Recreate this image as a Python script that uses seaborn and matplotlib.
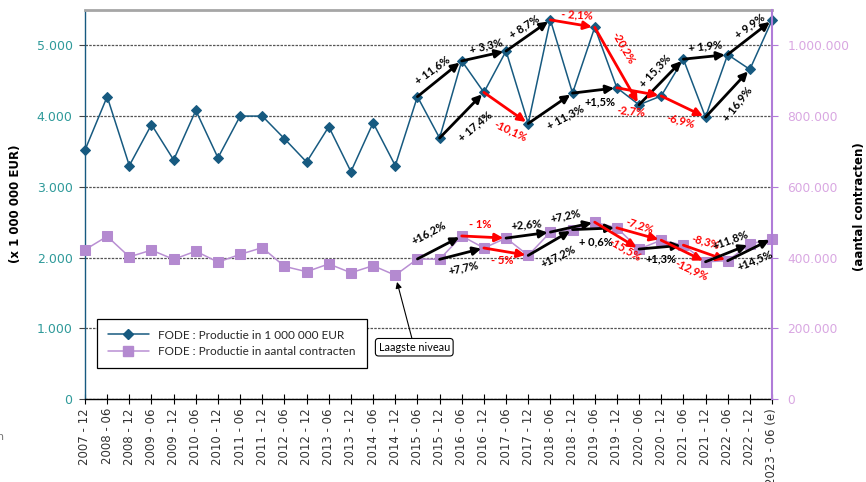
import numpy as np
import pandas as pd
import matplotlib
matplotlib.use("Agg")
import matplotlib.pyplot as plt
from matplotlib.lines import Line2D
import seaborn as sns

# Half-year periods
periods = [
    "2007 - 12", "2008 - 06", "2008 - 12", "2009 - 06", "2009 - 12", "2010 - 06",
    "2010 - 12", "2011 - 06", "2011 - 12", "2012 - 06", "2012 - 12", "2013 - 06",
    "2013 - 12", "2014 - 06", "2014 - 12", "2015 - 06", "2015 - 12", "2016 - 06",
    "2016 - 12", "2017 - 06", "2017 - 12", "2018 - 06", "2018 - 12", "2019 - 06",
    "2019 - 12", "2020 - 06", "2020 - 12", "2021 - 06", "2021 - 12", "2022 - 06",
    "2022 - 12", "2023 - 06 (e)",
]

# Production in 1 000 000 EUR (left axis)
productie_eur = [
    3520, 4275, 3300, 3880, 3380, 4080, 3410, 4000, 4000, 3680, 3350, 3850,
    3215, 3905, 3300, 4275, 3690, 4780, 4335, 4920, 3895, 5360, 4325, 5255,
    4400, 4160, 4285, 4805, 3985, 4870, 4660, 5355,
]

# Production in number of contracts (right axis)
aantal_contracten = [
    422000, 460000, 402000, 421000, 395000, 418000, 387000, 409000, 428000,
    375000, 360000, 382000, 357000, 377000, 350000, 396000, 395000, 461000,
    427000, 455000, 406000, 472000, 479000, 500000, 484000, 424000, 449000,
    435000, 388000, 391000, 438000, 453000,
]

eur_ticks = [0, 1000, 2000, 3000, 4000, 5000]
contract_ticks = [0, 200000, 400000, 600000, 800000, 1000000]

# Year-on-year changes: (from index, to index, label, label dx px, label dy px, rotation)
eur_changes = [
    (15, 17, "+ 11,6%", -7, 9, 36),
    (17, 19, "+ 3,3%", 2, 10, 14),
    (19, 21, "+ 8,7%", -4, 9, 33),
    (21, 23, "- 2,1%", 4, 9, -3),
    (23, 25, "-20,2%", 7, 18, -60),
    (25, 27, "+ 15,3%", -6, 11, 47),
    (27, 29, "+ 1,9%", 0, 11, 6),
    (29, 31, "+ 9,9%", 0, 12, 36),
    (16, 18, "+ 17,4%", 13, -11, 40),
    (18, 20, "-10,1%", 4, -23, -25),
    (20, 22, "+ 11,3%", 15, -9, 28),
    (22, 24, "+1,5%", 5, -11, 0),
    (24, 26, "-2,7%", -8, -19, -5),
    (26, 28, "-6,9%", -3, -14, -15),
    (28, 30, "+ 16,9%", 10, -11, 52),
]

contract_changes = [
    (15, 17, "+16,2%", -11, 15, 28),
    (16, 18, "+7,7%", 2, -14, 12),
    (17, 19, "- 1%", -4, 13, 0),
    (18, 20, "- 5%", -4, -9, 0),
    (19, 21, "+2,6%", -2, 11, 5),
    (20, 22, "+17,2%", 8, -14, 26),
    (21, 23, "+7,2%", -7, 11, 12),
    (22, 24, "+ 0,6%", 1, -13, 0),
    (23, 25, "-15,5%", 8, -14, -30),
    (24, 26, "-7,2%", 1, 9, -18),
    (25, 27, "+1,3%", 0, -12, 0),
    (26, 28, "-12,9%", 8, -19, -25),
    (27, 29, "-8,3%", 0, 11, -15),
    (28, 30, "+11,8%", 3, 13, 20),
    (29, 31, "+14,5%", 5, -10, 22),
]

BLUE = "#175a80"
PURPLE = "#b48ad0"
PURPLE_LINE = "#b98fd3"
RED = "#ff0000"
TEAL = "#2f9a9a"
PINK = "#d9a7e2"

sns.set_theme(style="white")
plt.rcParams["font.family"] = ["DejaVu Sans"]

fig = plt.figure(figsize=(8.66, 4.82), dpi=100)
ax = fig.add_axes([85 / 866, 1 - 399 / 482, (772 - 85) / 866, (399 - 10) / 482])
ax2 = ax.twinx()

x = np.arange(len(periods))
df = pd.DataFrame({"periode": x, "eur": productie_eur, "contracten": aantal_contracten})

sns.lineplot(data=df, x="periode", y="eur", ax=ax, color=BLUE, lw=1.1,
             marker="D", markersize=5, markerfacecolor=BLUE,
             markeredgecolor=BLUE, legend=False)
sns.lineplot(data=df, x="periode", y="contracten", ax=ax2, color=PURPLE_LINE,
             lw=1.1, marker="s", markersize=6.5, markerfacecolor=PURPLE,
             markeredgecolor=PURPLE, legend=False)
for ln in ax.lines + ax2.lines:
    ln.set_clip_on(False)

ax.set_xlim(0, len(periods) - 1)
ax.set_ylim(0, 5500)
ax2.set_ylim(0, 1100000)

ax.set_xticks(x)
ax.set_xticklabels(periods, rotation=90, fontsize=8.5, color="#333333")
ax.set_yticks(eur_ticks)
ax.set_yticklabels([f"{v:,}".replace(",", ".") for v in eur_ticks],
                   fontsize=9, color=TEAL)
ax2.set_yticks(contract_ticks)
ax2.set_yticklabels([f"{v:,}".replace(",", ".") for v in contract_ticks],
                    fontsize=8.8, color=PINK)
ax.set_xlabel("")
ax.set_ylabel("")
ax2.set_ylabel("")

ax.yaxis.grid(True, color="#555555", linestyle=(0, (2, 1)), lw=0.9)
ax.xaxis.grid(False)
ax.set_axisbelow(True)

ax.tick_params(axis="x", direction="inout", length=7, width=0.8, color="black",
               pad=3, bottom=True)
ax.tick_params(axis="y", direction="out", length=4, width=0.8, color="#444444",
               pad=5, left=True)
ax2.tick_params(axis="y", direction="out", length=4, width=0.8, color="#b07cd8",
                pad=7, right=True)

ax.spines["top"].set_color("#a6a6a6")
ax.spines["top"].set_linewidth(2)
ax.spines["left"].set_color(BLUE)
ax.spines["left"].set_linewidth(1)
ax.spines["bottom"].set_color("black")
ax.spines["bottom"].set_linewidth(1)
ax.spines["right"].set_visible(False)
for s in ("top", "left", "bottom"):
    ax2.spines[s].set_visible(False)
ax2.spines["right"].set_color("#b07cd8")
ax2.spines["right"].set_linewidth(1.5)


def draw_changes(axis, values, changes):
    for i, j, text, dx, dy, rot in changes:
        c = RED if text.startswith("-") else "black"
        axis.annotate("", xy=(j, values[j]), xytext=(i, values[i]),
                      arrowprops=dict(arrowstyle="-|>", color=c, lw=2,
                                      mutation_scale=12, shrinkA=0, shrinkB=2),
                      annotation_clip=False, zorder=5)
        mid = ((i + j) / 2, (values[i] + values[j]) / 2)
        axis.annotate(text, xy=mid, xytext=(dx, dy), textcoords="offset pixels",
                      ha="center", va="center", rotation=rot,
                      rotation_mode="anchor", color=c, fontsize=8,
                      fontweight="bold", family="Lato", zorder=6)


draw_changes(ax, productie_eur, eur_changes)
draw_changes(ax2, aantal_contracten, contract_changes)

# Lowest level callout
low = int(np.argmin(aantal_contracten))
ax2.annotate("Laagste niveau", xy=(low, aantal_contracten[low]),
             xytext=(19, -72), textcoords="offset pixels", ha="center",
             va="center", fontsize=7.8, family="Lato", color="black",
             bbox=dict(boxstyle="round,pad=0.3,rounding_size=0.3",
                       fc="white", ec="black", lw=0.8),
             arrowprops=dict(arrowstyle="-|>", color="black", lw=0.8,
                             mutation_scale=9, shrinkA=0, shrinkB=5))

handles = [
    Line2D([], [], color=BLUE, lw=1.1, marker="D", markersize=5,
           markerfacecolor=BLUE, markeredgecolor=BLUE),
    Line2D([], [], color=PURPLE_LINE, lw=1.1, marker="s", markersize=6.5,
           markerfacecolor=PURPLE, markeredgecolor=PURPLE),
]
leg = fig.legend(handles,
                 ["FODE : Productie in 1 000 000 EUR",
                  "FODE : Productie in aantal contracten"],
                 loc="upper left", bbox_to_anchor=(97 / 866, 1 - 319 / 482),
                 frameon=True, fancybox=False, edgecolor="black",
                 framealpha=1, prop={"family": "Lato", "size": 8.5},
                 handlelength=3.5, handletextpad=0.8, borderpad=0.9,
                 labelspacing=0.45, borderaxespad=0)
leg.get_frame().set_linewidth(0.9)

fig.text(16 / 866, 0.577, "(x 1 000 000 EUR)", rotation=90, ha="center",
         va="center", fontsize=8.5, fontweight="bold", color="black")
fig.text(860 / 866, 0.571, "(aantal contracten)", rotation=90, ha="center",
         va="center", fontsize=8.5, fontweight="bold", color="black")
fig.text(-0.004, 1 - 437 / 482, "n", ha="left", va="center", fontsize=8,
         color="#777777")

fig.savefig("out.png", dpi=100)
